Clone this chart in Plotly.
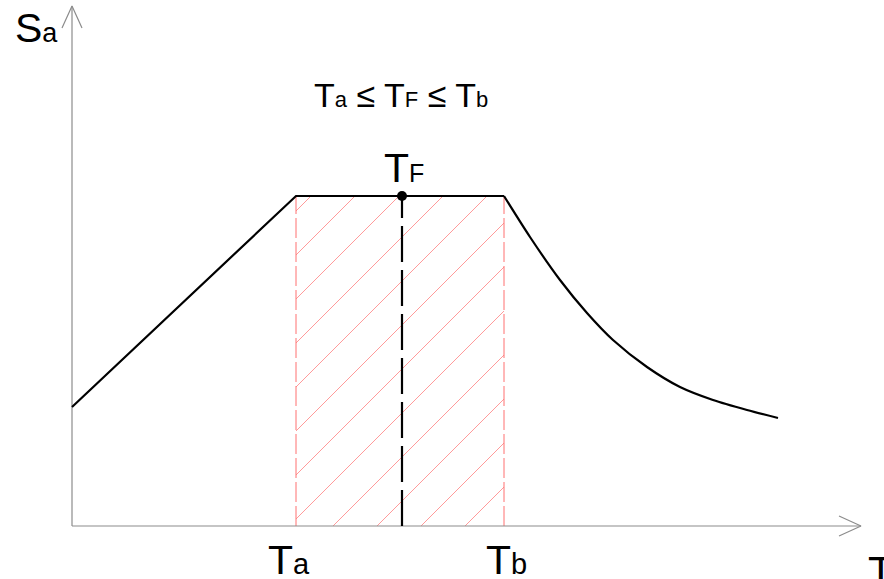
import plotly.graph_objects as go

# ---- data (T in units of period, Sa in units of spectral acceleration) ----
T_a = 2.24
T_b = 4.32
T_F = 3.30
Sa_plateau = 3.30
T_start = 0.0
Sa_start = 1.19
# descending branch beyond T_b
T_desc = [4.32, 4.58, 4.88, 5.15, 5.41, 5.75, 6.08, 6.41, 6.75, 7.06]
Sa_desc = [3.30, 2.89, 2.46, 2.13, 1.86, 1.59, 1.39, 1.26, 1.16, 1.08]
T_axis_end = 7.89
Sa_axis_end = 5.20

# ---- styles ----
W, H = 884, 579
PX = 100.0            # pixels per data unit
X0, Y0 = 72, 526      # pixel position of origin
x_range = [-X0 / PX, (W - X0) / PX]
y_range = [-(H - Y0) / PX, Y0 / PX]

axis_col = "#8c8c8c"
hatch_col = "rgba(255,120,120,0.75)"
edge_col = "#ff7070"
hatch_step = 0.44
hatch_phase = 2.17
arrow_len = 0.22
arrow_half = 0.10

fig = go.Figure()

# hatch lines (45 degree) clipped to the band [T_a, T_b] x [0, Sa_plateau]
hx, hy = [], []
k = hatch_phase
while k - hatch_step > T_a - Sa_plateau:
    k -= hatch_step
while k < T_b:
    t0 = max(T_a, k)
    t1 = min(T_b, k + Sa_plateau)
    if t1 > t0:
        hx += [t0, t1, None]
        hy += [t0 - k, t1 - k, None]
    k += hatch_step
fig.add_trace(go.Scatter(x=hx, y=hy, mode="lines",
                         line=dict(color=hatch_col, width=1), hoverinfo="skip"))

# red dashed band edges
for tb in (T_a, T_b):
    fig.add_trace(go.Scatter(x=[tb, tb], y=[0, Sa_plateau], mode="lines",
                             line=dict(color=edge_col, width=1, dash="20px,4px"),
                             hoverinfo="skip"))

# axes with open arrow heads
fig.add_trace(go.Scatter(
    x=[0, T_axis_end, None, T_axis_end - arrow_len, T_axis_end, T_axis_end - arrow_len],
    y=[0, 0, None, arrow_half, 0, -arrow_half],
    mode="lines", line=dict(color=axis_col, width=1.2), hoverinfo="skip"))
fig.add_trace(go.Scatter(
    x=[0, 0, None, -arrow_half, 0, arrow_half],
    y=[0, Sa_axis_end, None, Sa_axis_end - arrow_len, Sa_axis_end, Sa_axis_end - arrow_len],
    mode="lines", line=dict(color=axis_col, width=1.2), hoverinfo="skip"))

# spectrum curve: straight rise + plateau, smooth descending branch
fig.add_trace(go.Scatter(
    x=[T_start, T_a, T_b], y=[Sa_start, Sa_plateau, Sa_plateau],
    mode="lines", line=dict(color="black", width=2.2), hoverinfo="skip"))
fig.add_trace(go.Scatter(
    x=T_desc, y=Sa_desc,
    mode="lines", line=dict(color="black", width=2.2, shape="spline", smoothing=0.8),
    hoverinfo="skip"))

# T_F dashed line and point
fig.add_trace(go.Scatter(x=[T_F, T_F], y=[0, Sa_plateau], mode="lines",
                         line=dict(color="black", width=2.2, dash="36px,8px"),
                         hoverinfo="skip"))
fig.add_trace(go.Scatter(x=[T_F], y=[Sa_plateau], mode="markers",
                         marker=dict(color="black", size=10), hoverinfo="skip"))

FONT = "Arial, Liberation Sans, sans-serif"

def sub(big, small, bs, ss):
    return f"<span style='font-size:{bs}px'>{big}</span><span style='font-size:{ss}px'>{small}</span>"

ann = []
ann.append(dict(x=(13 - X0) / PX, y=(Y0 - 53) / PX, xanchor="left", yanchor="bottom",
                text=sub("S", "a", 41, 27)))
ann.append(dict(x=(312 - X0) / PX, y=(Y0 - 116) / PX, xanchor="left", yanchor="bottom",
                text=sub("T", "a", 34, 22) + "<span style='font-size:34px'> ≤ </span>"
                + sub("T", "F", 34, 22) + "<span style='font-size:34px'> ≤ </span>"
                + sub("T", "b", 34, 22)))
ann.append(dict(x=T_F + 0.02, y=Sa_plateau + 0.03, xanchor="center", yanchor="bottom",
                text=sub("T", "F", 41, 25)))
ann.append(dict(x=T_a - 0.07, y=(H - 585) / H, yref="paper", xanchor="center", yanchor="bottom",
                text=sub("T", "a", 41, 29)))
ann.append(dict(x=T_b + 0.02, y=(H - 585) / H, yref="paper", xanchor="center", yanchor="bottom",
                text=sub("T", "b", 41, 29)))
ann.append(dict(x=(866 - X0) / PX, y=-0.20, xanchor="left", yanchor="top",
                text="<span style='font-size:42px'>T</span>"))
for a in ann:
    a.update(showarrow=False, font=dict(family=FONT, color="black"))

fig.update_layout(
    width=W, height=H, margin=dict(l=0, r=0, t=0, b=0),
    paper_bgcolor="white", plot_bgcolor="white", showlegend=False,
    xaxis=dict(range=x_range, visible=False, fixedrange=True),
    yaxis=dict(range=y_range, visible=False, fixedrange=True),
    annotations=ann,
)

fig.write_html("out.html", config={"displayModeBar": False},
               post_script="document.body.style.margin='0';")
